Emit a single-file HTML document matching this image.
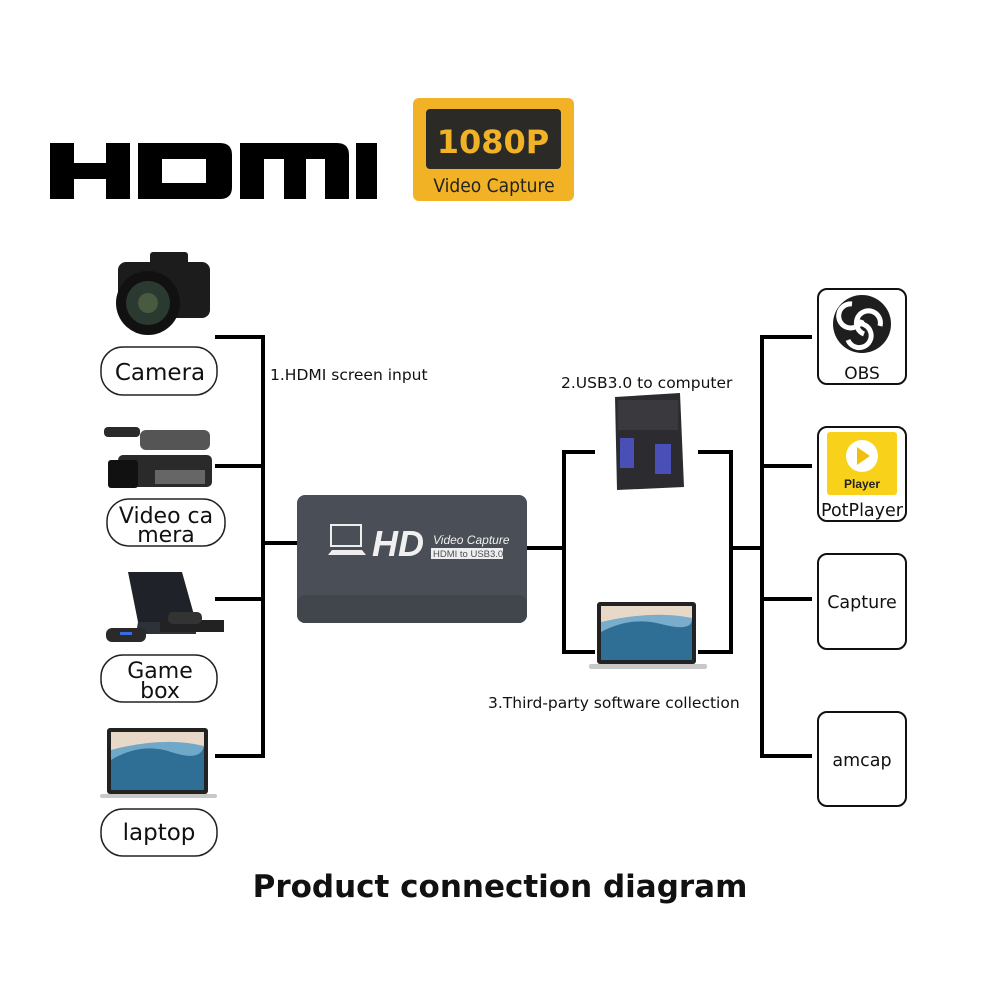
<!DOCTYPE html>
<html><head><meta charset="utf-8"><style>
html,body{margin:0;padding:0;background:#fff;}
svg{display:block;}
text{font-family:"DejaVu Sans","Liberation Sans",sans-serif;}
</style></head><body>
<svg width="1001" height="1001" viewBox="0 0 1001 1001" xmlns="http://www.w3.org/2000/svg">
<rect width="1001" height="1001" fill="#fff"/>
<!-- HDMI logo -->
<g fill="#000">
<path d="M50 143h24v20h32v-20h24v56h-24v-20h-32v20h-24z"/>
<path d="M138 143h82q12 0 12 12v32q0 12-12 12h-82zM162 159v24h44v-24z" fill-rule="evenodd"/>
<path d="M240 143h97q12 0 12 12v44h-24v-40h-19v40h-22v-40h-20v40h-24z"/>
<rect x="356" y="143" width="21" height="56"/>
</g>
<!-- badge -->
<rect x="413" y="98" width="161" height="103" rx="6" fill="#f2b226"/>
<rect x="426" y="109" width="135" height="60" rx="4" fill="#2b2a26"/>
<text x="493" y="153" text-anchor="middle" font-weight="bold" font-size="32" fill="#f2b226">1080P</text>
<text x="494" y="192" text-anchor="middle" font-size="19" fill="#222" style="font-family:'DejaVu Sans Condensed','DejaVu Sans'">Video Capture</text>

<!-- connectors -->
<g stroke="#000" stroke-width="4" fill="none">
<path d="M215 337H263V756H215M215 466H263M215 599H263M263 543H297"/>
<path d="M527 548H564M595 452H564V652H595M698 452H731V652H698M731 548H762"/>
<path d="M812 337H762V756H812M762 466H812M762 599H812"/>
</g>

<!-- left pills -->
<g fill="#fff" stroke="#222" stroke-width="1.5">
<rect x="101" y="347" width="116" height="48" rx="22"/>
<rect x="107" y="499" width="118" height="47" rx="22"/>
<rect x="101" y="655" width="116" height="47" rx="22"/>
<rect x="101" y="809" width="116" height="47" rx="22"/>
</g>
<g font-size="23" fill="#111" text-anchor="middle">
<text x="160" y="380">Camera</text>
<text x="166" y="523" font-size="22">Video ca</text>
<text x="166" y="542" font-size="22">mera</text>
<text x="160" y="678" font-size="22">Game</text>
<text x="160" y="698" font-size="22">box</text>
<text x="159" y="840">laptop</text>
</g>

<!-- camera icon -->
<g>
<rect x="118" y="262" width="92" height="56" rx="8" fill="#1c1c1c"/>
<rect x="150" y="252" width="38" height="16" rx="3" fill="#1c1c1c"/>
<circle cx="148" cy="303" r="32" fill="#111"/>
<circle cx="148" cy="303" r="22" fill="#2a3a30"/>
<circle cx="148" cy="303" r="10" fill="#4a5a40"/>
</g>
<!-- video camera -->
<g fill="#2a2a2a">
<rect x="104" y="427" width="36" height="10" rx="4"/>
<rect x="140" y="430" width="70" height="20" rx="6" fill="#555"/>
<rect x="118" y="455" width="94" height="32" rx="5"/>
<rect x="108" y="460" width="30" height="28" rx="3" fill="#111"/>
<rect x="155" y="470" width="50" height="14" fill="#666"/>
</g>
<!-- PS4 -->
<g>
<polygon points="128,572 182,572 196,622 138,622" fill="#1f2329"/>
<polygon points="138,622 196,622 196,634 136,634" fill="#2d3138"/>
<rect x="160" y="620" width="64" height="12" fill="#222"/>
<rect x="106" y="628" width="40" height="14" rx="6" fill="#2a2a2a"/>
<rect x="120" y="632" width="12" height="3" fill="#3a6ae0"/>
<rect x="168" y="612" width="34" height="12" rx="5" fill="#333"/>
</g>
<!-- laptop left -->
<g>
<rect x="107" y="728" width="101" height="66" rx="3" fill="#222"/>
<rect x="111" y="732" width="93" height="58" fill="#6fa8c8"/>
<path d="M111 760q30-18 60-8t33-6V790H111z" fill="#2f6f96"/>
<path d="M111 732h93v14q-40-10-93 4z" fill="#e8d8c8"/>
<rect x="100" y="794" width="117" height="4" rx="2" fill="#c8c8c8"/>
</g>

<!-- device -->
<rect x="297" y="495" width="230" height="128" rx="8" fill="#4a4f57"/>
<rect x="297" y="595" width="230" height="28" rx="8" fill="#41464d"/>
<g fill="none" stroke="#eee" stroke-width="2">
<rect x="331" y="525" width="30" height="21"/>
</g>
<polygon points="328,555 366,555 362,550 332,550" fill="#eee"/>
<text x="372" y="556" font-size="36" font-weight="bold" font-style="italic" fill="#f0f0f0" style="font-family:'Liberation Sans'">HD</text>
<text x="433" y="544" font-size="12" font-style="italic" fill="#f0f0f0" style="font-family:'Liberation Sans'">Video Capture</text>
<rect x="431" y="548" width="72" height="11" fill="#eee"/>
<text x="433" y="557" font-size="9.5" fill="#4a4f57" style="font-family:'Liberation Sans'">HDMI to USB3.0</text>

<!-- labels -->
<g font-size="15.5" fill="#111">
<text x="270" y="380">1.HDMI screen input</text>
<text x="561" y="388">2.USB3.0 to computer</text>
<text x="488" y="708">3.Third-party software collection</text>
</g>

<!-- tower -->
<g>
<polygon points="615,397 680,393 684,487 617,490" fill="#2c2c30"/>
<rect x="618" y="400" width="60" height="30" fill="#3a3a3e"/>
<rect x="620" y="438" width="14" height="30" fill="#4a4fb8"/>
<rect x="655" y="444" width="16" height="30" fill="#4a4fb8"/>
</g>
<!-- laptop right -->
<g>
<rect x="597" y="602" width="99" height="62" rx="3" fill="#222"/>
<rect x="601" y="606" width="91" height="54" fill="#7aaccc"/>
<path d="M601 632q30-16 60-8t31-4V660H601z" fill="#2f6f96"/>
<path d="M601 606h91v12q-40-8-91 4z" fill="#e8d8c8"/>
<rect x="589" y="664" width="118" height="5" rx="2" fill="#c8c8c8"/>
</g>

<!-- right boxes -->
<g fill="#fff" stroke="#111" stroke-width="2">
<rect x="818" y="289" width="88" height="95" rx="9"/>
<rect x="818" y="427" width="88" height="94" rx="9"/>
<rect x="818" y="554" width="88" height="95" rx="9"/>
<rect x="818" y="712" width="88" height="94" rx="9"/>
</g>
<circle cx="862" cy="324" r="29" fill="#1e1e1e"/>
<g fill="none" stroke="#fff" stroke-width="5">
<path d="M852 304a12 12 0 1 0 10 16"/>
<path d="M880 326a12 12 0 1 0 -16 8"/>
<path d="M848 340a12 12 0 1 0 8 -16"/>
</g>
<text x="862" y="379" text-anchor="middle" font-size="17" fill="#111">OBS</text>
<rect x="827" y="432" width="70" height="63" rx="3" fill="#f8d21a"/>
<circle cx="862" cy="456" r="16" fill="#fff"/>
<polygon points="857,447 857,465 870,456" fill="#f0c010"/>
<text x="862" y="488" text-anchor="middle" font-size="12" font-weight="bold" fill="#222" style="font-family:'Liberation Sans'">Player</text>
<text x="862" y="516" text-anchor="middle" font-size="17.5" fill="#111">PotPlayer</text>
<text x="862" y="608" text-anchor="middle" font-size="17.5" fill="#111">Capture</text>
<text x="862" y="766" text-anchor="middle" font-size="17.5" fill="#111">amcap</text>

<text x="500" y="897" text-anchor="middle" font-size="31" font-weight="bold" fill="#111">Product connection diagram</text>
</svg>
</body></html>
